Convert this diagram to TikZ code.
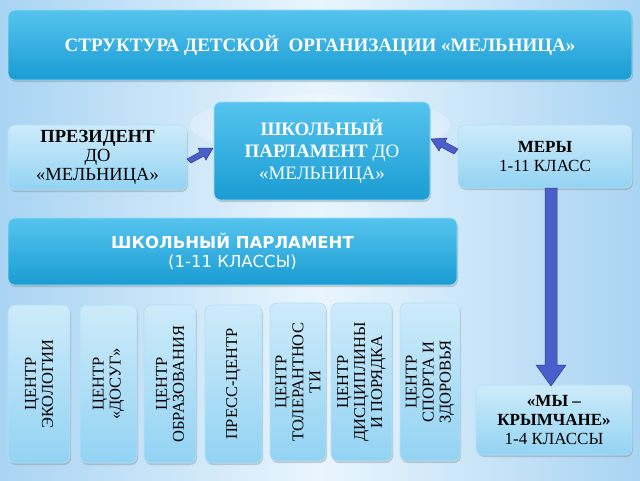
\documentclass[tikz,border=0pt]{standalone}
\usepackage{fontspec}
\setmainfont{Liberation Serif}
\setsansfont{DejaVu Sans}
\usetikzlibrary{arrows.meta,shadows}
\definecolor{bgA}{HTML}{A9D4F3}
\definecolor{bgB}{HTML}{E9F5FD}
\definecolor{dk1}{HTML}{55C4EE}
\definecolor{dk2}{HTML}{1A9CD3}
\definecolor{lt1}{HTML}{CDEBFA}
\definecolor{lt2}{HTML}{93D3F3}
\definecolor{arr}{HTML}{4B5FCB}
\definecolor{arrd}{HTML}{2E3A8C}
\tikzset{
 dark/.style={rounded corners=7pt, top color=dk1, bottom color=dk2, draw=dk1!60!white, line width=0.6pt, drop shadow={shadow xshift=1pt,shadow yshift=-2pt,opacity=0.35}, text=white, align=center},
 light/.style={rounded corners=7pt, top color=lt1, bottom color=lt2, draw=lt2!70!white, line width=0.6pt, drop shadow={shadow xshift=1pt,shadow yshift=-2pt,opacity=0.35}, text=black, align=center},
 vbox/.style={light, minimum height=158pt},
 vtxt/.style={rotate=90, align=center, font=\fontsize{16.5}{17}\selectfont},
 barr/.style={draw=arrd, line width=0.5pt, fill=arr},
}
\begin{document}
\begin{tikzpicture}[x=1pt,y=-1pt]
\useasboundingbox (0,0) rectangle (640,480);
\shade[top color=bgB, bottom color=bgA, left color=bgA, right color=bgA, middle color=bgB] (0,0) rectangle (640,480);
\fill[white,opacity=0.25] (320,125) ellipse (130 and 30);
% title
\node[dark, minimum width=624pt, minimum height=70pt, font=\bfseries\fontsize{19}{21}\selectfont] (title) at (320,45) {СТРУКТУРА ДЕТСКОЙ~ ОРГАНИЗАЦИИ «МЕЛЬНИЦА»};
\node[light, minimum width=179pt, minimum height=65pt, font=\fontsize{18.5}{19}\selectfont, inner sep=1pt] (pres) at (97.5,157.5) {\textbf{ПРЕЗИДЕНТ}\\ДО\\«МЕЛЬНИЦА»};
\node[dark, minimum width=216pt, minimum height=98pt, font=\fontsize{19}{22}\selectfont] (sp) at (322,151) {\textbf{ШКОЛЬНЫЙ}\\\textbf{ПАРЛАМЕНТ} ДО\\«МЕЛЬНИЦА»};
\node[light, minimum width=174pt, minimum height=63pt, font=\fontsize{17}{19}\selectfont] (mery) at (545,156.5) {\textbf{МЕРЫ}\\1-11 КЛАСС};
\node[dark, minimum width=449pt, minimum height=67pt, font=\sffamily\fontsize{16.5}{19}\selectfont] (sp2) at (232.5,251.5) {\textbf{ШКОЛЬНЫЙ ПАРЛАМЕНТ}\\(1-11 КЛАССЫ)};
\node[light, minimum width=156pt, minimum height=70pt, font=\fontsize{17}{19}\selectfont] (kr) at (554,420) {\textbf{«МЫ –}\\\textbf{КРЫМЧАНЕ»}\\1-4 КЛАССЫ};
% vertical boxes
\node[vbox, minimum width=62pt] (c1) at (39,384) {};
\node[vtxt] at (c1) {ЦЕНТР\\ЭКОЛОГИИ};
\node[vbox, minimum width=57pt] (c2) at (108.5,384) {};
\node[vtxt] at (c2) {ЦЕНТР\\«ДОСУГ»};
\node[vbox, minimum width=52pt] (c3) at (170,384) {};
\node[vtxt] at (c3) {ЦЕНТР\\ОБРАЗОВАНИЯ};
\node[vbox, minimum width=57pt] (c4) at (233.5,384) {};
\node[vtxt] at (c4) {ПРЕСС-ЦЕНТР};
\node[vbox, minimum width=56pt] (c5) at (298,382) {};
\node[vtxt] at (c5) {ЦЕНТР\\ТОЛЕРАНТНОС\\ТИ};
\node[vbox, minimum width=61pt] (c6) at (361.5,382) {};
\node[vtxt] at (c6) {ЦЕНТР\\ДИСЦИПЛИНЫ\\И ПОРЯДКА};
\node[vbox, minimum width=60pt] (c7) at (430,382) {};
\node[vtxt] at (c7) {ЦЕНТР\\СПОРТА И\\ЗДОРОВЬЯ};
% arrows
\draw[barr] (187,159) -- (200,152) -- (198,148) -- (213,148) -- (206,160) -- (204,156) -- (191,163) -- cycle;
\draw[barr] (458,149) -- (445,142) -- (447,138) -- (431,139) -- (439,151) -- (441,147) -- (454,154) -- cycle;
\draw[barr] (545,188) -- (557,188) -- (557,365) -- (566,365) -- (551,386) -- (536,365) -- (545,365) -- cycle;
\end{tikzpicture}
\end{document}
